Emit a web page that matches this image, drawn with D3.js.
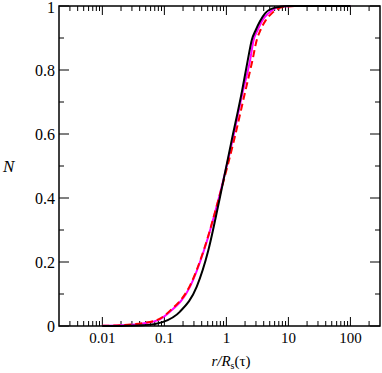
<!DOCTYPE html>
<html>
<head>
<meta charset="utf-8">
<script src="https://cdn.jsdelivr.net/npm/d3@7"></script>
<style>
  body { margin: 0; background: #fff; }
</style>
</head>
<body>
<script>
// values
var rBlack = [0.01, 0.02, 0.045, 0.096, 0.179, 0.333, 0.513, 0.771, 1.22, 1.77, 2.21, 2.57, 2.98, 3.5, 4.21, 6.1, 10, 100];
var nBlack = [0, 0.0003, 0.002, 0.013, 0.045, 0.123, 0.2375, 0.394, 0.581, 0.73, 0.83, 0.894, 0.925, 0.953, 0.977, 0.995, 1, 1];

var rMagenta = [0.01, 0.02, 0.03, 0.045, 0.085, 0.124, 0.26, 0.437, 0.743, 1.26, 1.83, 2.41, 2.75, 3.2, 3.8, 4.76, 7.3, 12, 100];
var nMagenta = [0.0005, 0.002, 0.004, 0.008, 0.021, 0.045, 0.123, 0.2375, 0.394, 0.581, 0.73, 0.83, 0.894, 0.925, 0.955, 0.977, 0.998, 1, 1];

var rRed = [0.01, 0.02, 0.03, 0.045, 0.085, 0.124, 0.26, 0.437, 0.743, 1.33, 2.0, 2.63, 3.09, 3.55, 4.3, 5.4, 8.9, 15, 100];
var nRed = [0.0005, 0.0025, 0.005, 0.009, 0.023, 0.048, 0.127, 0.24, 0.394, 0.581, 0.73, 0.83, 0.894, 0.925, 0.955, 0.977, 0.998, 1, 1];

var xMajor = [0.01, 0.1, 1, 10, 100];
var xLabels = ["0.01", "0.1", "1", "10", "100"];
var yMajor = [0, 0.2, 0.4, 0.6, 0.8, 1];
var yLabels = ["0", "0.2", "0.4", "0.6", "0.8", "1"];
var yMinor = [0.1, 0.3, 0.5, 0.7, 0.9];

var svgWidth = 382, svgHeight = 373;
var margin = {top: 6, right: 2, bottom: 47, left: 59};
var width = svgWidth - margin.left - margin.right;
var height = svgHeight - margin.top - margin.bottom;
var serif = "'Liberation Serif', 'Times New Roman', Times, serif";

var svg = d3.select("body").append("svg")
  .attr("width", svgWidth)
  .attr("height", svgHeight)
  .attr("font-family", serif);

var g = svg.append("g")
  .attr("transform", `translate(${margin.left},${margin.top})`);

var x = d3.scaleLog().domain([0.002, 300]).range([0, width]);
var y = d3.scaleLinear().domain([0, 1]).range([height, 0]);

// minor x ticks 2..9 in each decade
var xMinor = [];
[0.001, 0.01, 0.1, 1, 10, 100].forEach(function(d) {
  for (var k = 2; k <= 9; k++) {
    var v = +(d * k).toPrecision(3);
    if (v > 0.002 && v < 300) xMinor.push(v);
  }
});

function tickLines(vals, len, horiz, at, dir) {
  g.append("g").selectAll("line").data(vals).enter().append("line")
    .attr("x1", d => horiz ? x(d) : at)
    .attr("x2", d => horiz ? x(d) : at + dir * len)
    .attr("y1", d => horiz ? at : y(d))
    .attr("y2", d => horiz ? at + dir * len : y(d))
    .attr("stroke", "#000")
    .attr("stroke-width", 1);
}
tickLines(xMajor, 9, true, height, -1);
tickLines(xMinor, 5, true, height, -1);
tickLines(xMajor, 9, true, 0, 1);
tickLines(xMinor, 5, true, 0, 1);
tickLines(yMajor, 10, false, 0, 1);
tickLines(yMinor, 5, false, 0, 1);
tickLines(yMajor, 10, false, width, -1);
tickLines(yMinor, 5, false, width, -1);

// tick labels
g.append("g").selectAll("text").data(xMajor).enter().append("text")
  .attr("x", d => x(d))
  .attr("y", height + 17)
  .attr("text-anchor", "middle")
  .attr("font-family", serif)
  .attr("font-size", "15px")
  .text((d, i) => xLabels[i]);

g.append("g").selectAll("text").data(yMajor).enter().append("text")
  .attr("x", -4)
  .attr("y", d => Math.max(y(d) + 5.5, 7))
  .attr("text-anchor", "end")
  .attr("font-family", serif)
  .attr("font-size", "16px")
  .text((d, i) => yLabels[i]);

// curves
var line = d3.line()
  .x(d => x(d[0]))
  .y(d => y(d[1]))
  .curve(d3.curveMonotoneX);

g.append("path")
  .datum(d3.zip(rMagenta, nMagenta))
  .attr("d", line)
  .attr("fill", "none")
  .attr("stroke", "#ff00ff")
  .attr("stroke-width", 2);

g.append("path")
  .datum(d3.zip(rRed, nRed))
  .attr("d", line)
  .attr("fill", "none")
  .attr("stroke", "#ff0000")
  .attr("stroke-width", 2)
  .attr("stroke-dasharray", "7,4");

g.append("path")
  .datum(d3.zip(rBlack, nBlack))
  .attr("d", line)
  .attr("fill", "none")
  .attr("stroke", "#000")
  .attr("stroke-width", 2);

// frame
g.append("rect")
  .attr("width", width)
  .attr("height", height)
  .attr("fill", "none")
  .attr("stroke", "#000")
  .attr("stroke-width", 1.5);

// axis titles
svg.append("text")
  .attr("x", 3)
  .attr("y", 172)
  .attr("font-family", serif)
  .attr("font-size", "17px")
  .attr("font-style", "italic")
  .text("N");

var xt = svg.append("text")
  .attr("x", 231)
  .attr("y", 366)
  .attr("text-anchor", "middle")
  .attr("font-family", serif)
  .attr("font-size", "15px");
xt.append("tspan").attr("font-style", "italic").text("r/R");
xt.append("tspan").attr("font-size", "10px").attr("dy", 3).text("s");
xt.append("tspan").attr("dy", -3).text("(τ)");
</script>
</body>
</html>
